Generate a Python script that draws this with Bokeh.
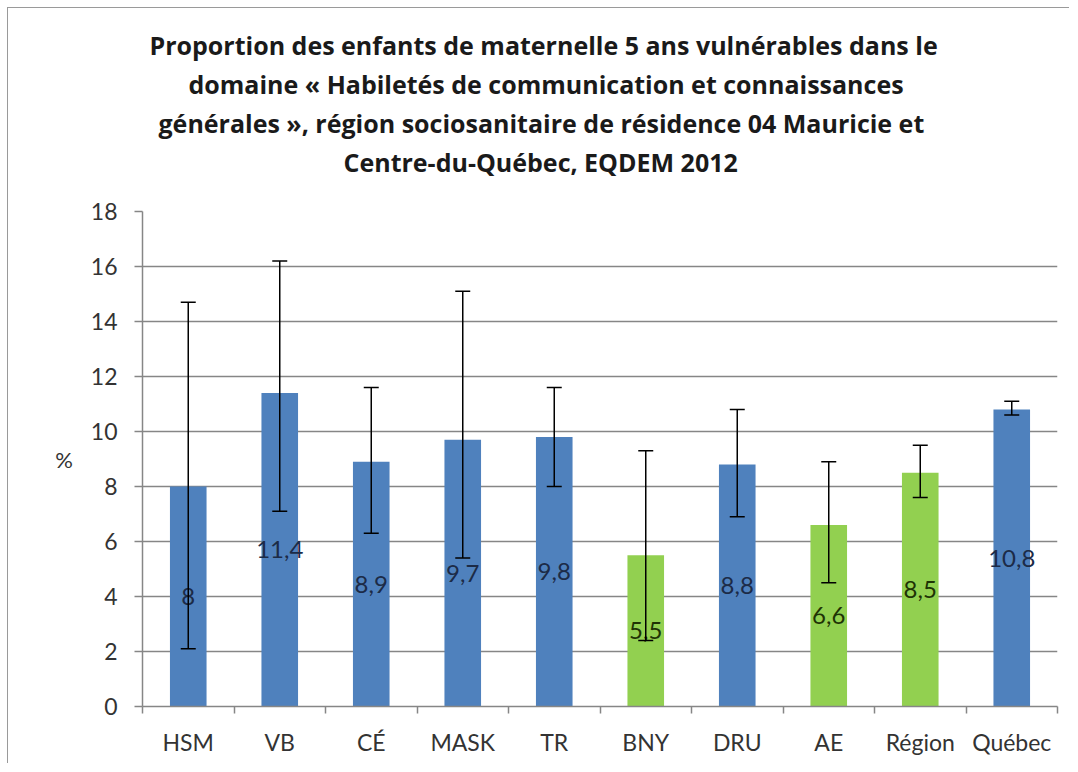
import numpy as np
from bokeh.plotting import figure
from bokeh.models import (ColumnDataSource, FixedTicker, Whisker, TeeHead,
                          LabelSet, Range1d, Title)
from bokeh.core.properties import value
from bokeh.embed import file_html
from bokeh.resources import INLINE

# ---- data ----
categories = ["HSM", "VB", "CÉ", "MASK", "TR", "BNY", "DRU", "AE", "Région", "Québec"]
values = [8.0, 11.4, 8.9, 9.7, 9.8, 5.5, 8.8, 6.6, 8.5, 10.8]
ci_lower = [2.1, 7.1, 6.3, 5.4, 8.0, 2.4, 6.9, 4.5, 7.6, 10.6]
ci_upper = [14.7, 16.2, 11.6, 15.1, 11.6, 9.3, 10.8, 8.9, 9.5, 11.1]
groups = ["blue", "blue", "blue", "blue", "blue", "green", "blue", "green", "green", "blue"]
y_ticks = [0, 2, 4, 6, 8, 10, 12, 14, 16, 18]
title_lines = [
    "Proportion des enfants de maternelle 5 ans vulnérables dans le",
    "domaine « Habiletés de communication et connaissances",
    "générales », région sociosanitaire de résidence 04 Mauricie et",
    "Centre-du-Québec, EQDEM 2012",
]
y_label = "%"

BAR_COLORS = {"blue": "#4F81BD", "green": "#92D050"}
TEXT_COLORS = {"blue": "#1c2b47", "green": "#1e3305"}
FONT = "Lato"
TITLE_FONT = "Open Sans"
# left offsets (px from plot-area left edge) of each title line
TITLE_OFFSETS = [7, 46, 16, 201]

n = len(categories)
xpos = np.arange(n) + 0.5
labels_txt = [("%g" % v).replace(".", ",") for v in values]

src = ColumnDataSource(dict(
    x=xpos, top=values, lower=ci_lower, upper=ci_upper,
    color=[BAR_COLORS[g] for g in groups],
    tcolor=[TEXT_COLORS[g] for g in groups],
    ymid=np.array(values) / 2.0, label=labels_txt,
))

p = figure(width=1062, height=756, output_backend="svg", toolbar_location=None,
           x_range=Range1d(0, n), y_range=Range1d(0, 18),
           min_border_left=134, min_border_right=13, min_border_top=120,
           min_border_bottom=58)
p.outline_line_color = None
p.background_fill_color = "white"
p.border_fill_color = "white"
p.styles = {"margin-left": "7px", "margin-top": "7px",
            "border-top": "1px solid #9a9a9a", "border-left": "1px solid #9a9a9a"}

p.vbar(x="x", top="top", width=0.4, bottom=0, color="color", line_color=None, source=src)

w = Whisker(base="x", lower="lower", upper="upper", source=src, dimension="height",
            line_color="black", line_width=1.5, level="overlay",
            upper_head=TeeHead(size=15, line_color="black", line_width=1.5),
            lower_head=TeeHead(size=15, line_color="black", line_width=1.5))
p.add_layout(w)

ls = LabelSet(x="x", y="ymid", text="label", source=src, text_align="center",
              text_baseline="middle", text_color="tcolor",
              text_font=value(FONT), text_font_size="24px")
p.add_layout(ls)

# axes
p.xaxis.ticker = FixedTicker(ticks=list(xpos), minor_ticks=list(range(n + 1)))
p.xaxis.major_label_overrides = {float(x): c for x, c in zip(xpos, categories)}
p.xaxis.major_tick_out = 0
p.xaxis.major_tick_in = 0
p.xaxis.minor_tick_out = 7
p.xaxis.minor_tick_in = 0
p.xaxis.minor_tick_line_color = "#868686"
p.xaxis.minor_tick_line_width = 1.5
p.xaxis.axis_line_color = "#868686"
p.xaxis.axis_line_width = 1.5
p.xaxis.major_label_text_font = FONT
p.xaxis.major_label_text_font_size = "23px"
p.xaxis.major_label_text_color = "#333333"
p.xaxis.major_label_standoff = 14

p.yaxis.ticker = FixedTicker(ticks=y_ticks)
p.yaxis.minor_tick_line_color = None
p.yaxis.major_tick_out = 8
p.yaxis.major_tick_in = 0
p.yaxis.major_tick_line_color = "#868686"
p.yaxis.major_tick_line_width = 1.5
p.yaxis.axis_line_color = "#868686"
p.yaxis.axis_line_width = 1.5
p.yaxis.major_label_text_font = FONT
p.yaxis.major_label_text_font_size = "23px"
p.yaxis.major_label_text_color = "#333333"
p.yaxis.major_label_standoff = 17
p.yaxis.axis_label = y_label
p.yaxis.axis_label_orientation = "horizontal"
p.yaxis.axis_label_standoff = 15
p.yaxis.axis_label_text_font = FONT
p.yaxis.axis_label_text_font_size = "22px"
p.yaxis.axis_label_text_font_style = "normal"
p.yaxis.axis_label_text_color = "#333333"
p.yaxis.axis_label_text_baseline = "top"

p.xgrid.grid_line_color = None
p.ygrid.ticker = FixedTicker(ticks=y_ticks)
p.ygrid.grid_line_color = "#868686"
p.ygrid.grid_line_width = 1.5

# title: spacer nearest plot, then lines from bottom to top, then outer spacer
p.add_layout(Title(text=" ", text_font_size="10px", standoff=18), "above")
for t, off in reversed(list(zip(title_lines, TITLE_OFFSETS))):
    p.add_layout(Title(text=t, align="left", offset=off, standoff=2.5,
                       text_font=TITLE_FONT, text_font_style="bold",
                       text_font_size="25px", text_color="#1a1a1a"), "above")
p.add_layout(Title(text=" ", text_font_size="10px", standoff=3), "above")

open("out.html", "w").write(file_html(p, INLINE))
